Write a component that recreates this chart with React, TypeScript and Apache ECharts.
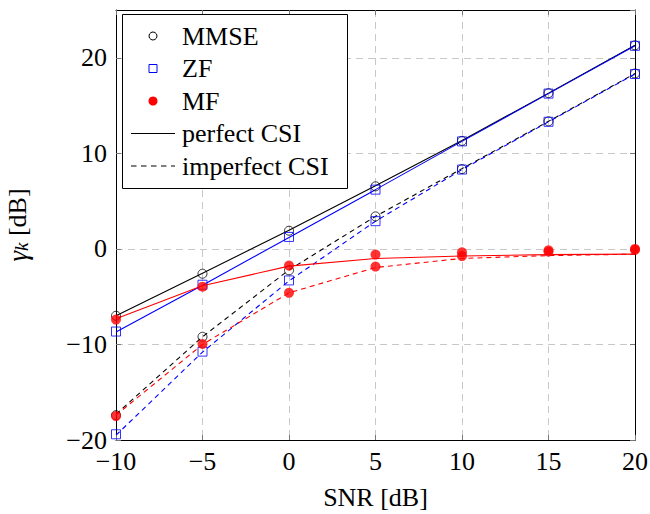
import React, { useEffect, useRef } from "react";
import * as echarts from "echarts";

const snr = [-10, -5, 0, 5, 10, 15, 20];

// analytical curves
const mmsePerfectLine = [-7.0, -2.55, 1.95, 6.6, 11.35, 16.3, 21.3];
const mmseImperfectLine = [-17.3, -9.2, -2.2, 3.4, 8.4, 13.35, 18.35];
const zfPerfectLine = [-8.7, -3.8, 1.2, 6.2, 11.25, 16.25, 21.25];
const zfImperfectLine = [-19.5, -10.8, -3.35, 2.9, 8.3, 13.3, 18.3];
const mfPerfectLine = [-7.3, -3.85, -1.8, -1.0, -0.75, -0.6, -0.55];
const mfImperfectLine = [-17.4, -10.0, -4.6, -1.95, -1.0, -0.7, -0.55];

// simulated markers
const mmsePerfectSim = [-7.0, -2.6, 1.9, 6.55, 11.3, 16.3, 21.3];
const mmseImperfectSim = [-17.4, -9.2, -2.25, 3.4, 8.35, 13.35, 18.35];
const zfPerfectSim = [-8.65, -3.75, 1.25, 6.2, 11.25, 16.25, 21.25];
const zfImperfectSim = [-19.4, -10.75, -3.3, 2.9, 8.3, 13.3, 18.3];
const mfPerfectSim = [-7.4, -3.95, -1.75, -0.6, -0.35, -0.15, 0.0];
const mfImperfectSim = [-17.5, -9.95, -4.6, -1.85, -0.75, -0.3, -0.1];

const legendLabels = ["MMSE", "ZF", "MF", "perfect CSI", "imperfect CSI"];

const FONT = "'Liberation Serif', 'Times New Roman', 'DejaVu Serif', serif";
const BLACK = "#000000";
const BLUE = "#0000ff";
const RED = "#ff0000";

const pts = (ys: number[]) => snr.map((x, i) => [x, ys[i]]);
const minusFmt = (v: number) => String(v).replace("-", "\u2212");

export default function App() {
  const ref = useRef<HTMLDivElement>(null);
  useEffect(() => {
    if (!ref.current) return;
    const chart = echarts.init(ref.current, undefined, { renderer: "svg" });

    const lineS = (name: string, ys: number[], color: string, dashed: boolean) => ({
      name,
      type: "line",
      data: pts(ys),
      symbol: "none",
      z: 3,
      lineStyle: { color, width: 1.1, type: dashed ? [5, 4] : "solid" },
      silent: true,
    });
    const scatS = (name: string, ys: number[], kind: string) => {
      const base: any = {
        name,
        type: "scatter",
        data: pts(ys),
        z: 4,
        silent: true,
      };
      if (kind === "mmse") {
        base.symbol = "circle";
        base.symbolSize = 9;
        base.itemStyle = { color: "transparent", borderColor: BLACK, borderWidth: 1 };
      } else if (kind === "zf") {
        base.symbol = "rect";
        base.symbolSize = 9;
        base.itemStyle = { color: "transparent", borderColor: BLUE, borderWidth: 1 };
      } else {
        base.symbol = "circle";
        base.symbolSize = 10;
        base.itemStyle = { color: RED, borderWidth: 0 };
        base.z = 5;
      }
      return base;
    };

    const rowY = [36, 68.5, 101, 133.5, 166];
    const lx = 153;
    const tx = 182;
    const legendEls: any[] = [
      {
        type: "rect",
        shape: { x: 122.5, y: 14.5, width: 225, height: 174 },
        style: { fill: "#fff", stroke: BLACK, lineWidth: 1 },
        z: 100,
      },
      {
        type: "circle",
        shape: { cx: lx, cy: rowY[0], r: 4 },
        style: { fill: "transparent", stroke: BLACK, lineWidth: 1 },
        z: 101,
      },
      {
        type: "rect",
        shape: { x: lx - 4, y: rowY[1] - 4, width: 8, height: 8 },
        style: { fill: "transparent", stroke: BLUE, lineWidth: 1 },
        z: 101,
      },
      {
        type: "circle",
        shape: { cx: lx, cy: rowY[2], r: 4.5 },
        style: { fill: RED, stroke: "none" },
        z: 101,
      },
      {
        type: "line",
        shape: { x1: 131, y1: rowY[3], x2: 175, y2: rowY[3] },
        style: { stroke: BLACK, lineWidth: 1.1 },
        z: 101,
      },
      {
        type: "line",
        shape: { x1: 131, y1: rowY[4], x2: 175, y2: rowY[4] },
        style: { stroke: BLACK, lineWidth: 1.1, lineDash: [5.5, 4.5] },
        z: 101,
      },
    ];
    legendLabels.forEach((t, i) => {
      legendEls.push({
        type: "text",
        x: tx,
        y: rowY[i],
        style: {
          text: t,
          fill: BLACK,
          fontFamily: FONT,
          fontSize: 26,
          verticalAlign: "middle",
          align: "left",
        },
        z: 101,
      });
    });

    const gridLine = { show: true, lineStyle: { color: "#c8c8c8", type: [7, 5], width: 1 } };
    const tick = { show: true, inside: true, length: 5, lineStyle: { color: "#777" } };
    const axisLine = { show: true, onZero: false, lineStyle: { color: BLACK, width: 1 } };

    chart.setOption({
      animation: false,
      backgroundColor: "#fff",
      grid: {
        left: 116,
        right: 15,
        top: 10,
        bottom: 74,
        containLabel: false,
        outerBoundsMode: "none",
      },
      xAxis: [
        {
          type: "value",
          min: -10,
          max: 20,
          interval: 5,
          position: "bottom",
          axisLine,
          axisTick: tick,
          splitLine: gridLine,
          axisLabel: {
            formatter: minusFmt,
            fontFamily: FONT,
            fontSize: 26,
            color: BLACK,
            margin: 8,
          },
          name: "SNR [dB]",
          nameLocation: "middle",
          nameGap: 44,
          nameTextStyle: { fontFamily: FONT, fontSize: 26, color: BLACK },
        },
        {
          type: "value",
          min: -10,
          max: 20,
          interval: 5,
          position: "top",
          axisLine,
          axisTick: tick,
          splitLine: { show: false },
          axisLabel: { show: false },
        },
      ],
      yAxis: [
        {
          type: "value",
          min: -20,
          max: 25,
          interval: 10,
          position: "left",
          axisLine,
          axisTick: tick,
          splitLine: gridLine,
          axisLabel: {
            formatter: minusFmt,
            fontFamily: FONT,
            fontSize: 26,
            color: BLACK,
            margin: 9,
            showMaxLabel: false,
          },
          name: "{g|\u03b3}{k|k} {n|[dB]}",
          nameLocation: "middle",
          nameRotate: 90,
          nameGap: 85,
          nameTextStyle: {
            fontFamily: FONT,
            fontSize: 26,
            color: BLACK,
            rich: {
              g: { fontFamily: FONT, fontSize: 27, fontStyle: "italic", color: BLACK },
              k: {
                fontFamily: FONT,
                fontSize: 19,
                fontStyle: "italic",
                color: BLACK,
                verticalAlign: "bottom",
                padding: [8, 0, 0, 0],
              },
              n: { fontFamily: FONT, fontSize: 26, color: BLACK },
            },
          },
        },
        {
          type: "value",
          min: -20,
          max: 25,
          interval: 10,
          position: "right",
          axisLine,
          axisTick: tick,
          splitLine: { show: false },
          axisLabel: { show: false },
        },
      ],
      series: [
        lineS("MMSE perfect", mmsePerfectLine, BLACK, false),
        lineS("MMSE imperfect", mmseImperfectLine, BLACK, true),
        lineS("ZF perfect", zfPerfectLine, BLUE, false),
        lineS("ZF imperfect", zfImperfectLine, BLUE, true),
        lineS("MF perfect", mfPerfectLine, RED, false),
        lineS("MF imperfect", mfImperfectLine, RED, true),
        scatS("MMSE sim perfect", mmsePerfectSim, "mmse"),
        scatS("MMSE sim imperfect", mmseImperfectSim, "mmse"),
        scatS("ZF sim perfect", zfPerfectSim, "zf"),
        scatS("ZF sim imperfect", zfImperfectSim, "zf"),
        scatS("MF sim perfect", mfPerfectSim, "mf"),
        scatS("MF sim imperfect", mfImperfectSim, "mf"),
      ],
      graphic: legendEls,
    });
    return () => chart.dispose();
  }, []);
  return (
    <div
      ref={ref}
      style={{ position: "fixed", left: 0, top: 0, width: 650, height: 514, background: "#fff" }}
    />
  );
}
